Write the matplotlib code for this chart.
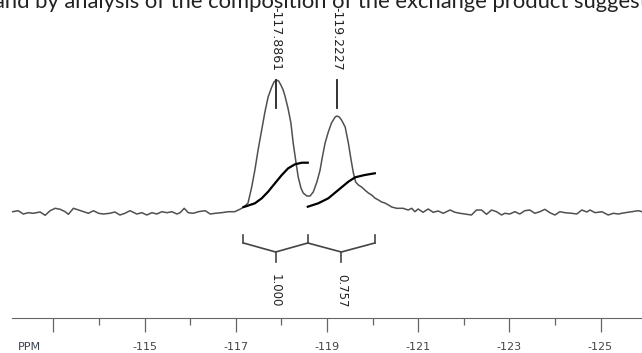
import numpy as np
import matplotlib.pyplot as plt

plt.rcParams['axes.unicode_minus'] = False

# spectrum (ppm, intensity above baseline)
ppm = [-112.11, -112.23, -112.34, -112.45, -112.56, -112.71, -112.82, -112.93, -113.04, -113.15,
       -113.26, -113.33, -113.44, -113.55, -113.66, -113.77, -113.88, -113.99, -114.10, -114.24,
       -114.35, -114.46, -114.57, -114.68, -114.83, -114.94, -115.05, -115.16, -115.27, -115.38,
       -115.49, -115.60, -115.71, -115.78, -115.87, -115.96, -116.07, -116.18, -116.33, -116.44,
       -116.55, -116.69, -116.84, -116.98, -117.09, -117.17, -117.27, -117.35, -117.42, -117.49,
       -117.57, -117.64, -117.71, -117.79, -117.84, -117.89, -117.94, -117.99, -118.04, -118.08,
       -118.15, -118.21, -118.26, -118.32, -118.37, -118.43, -118.48, -118.56, -118.63, -118.70,
       -118.78, -118.85, -118.90, -118.96, -119.03, -119.10, -119.18, -119.22, -119.27, -119.32,
       -119.40, -119.47, -119.53, -119.58, -119.63, -119.69, -119.76, -119.83, -119.91, -119.98,
       -120.05, -120.13, -120.20, -120.27, -120.35, -120.42, -120.53, -120.67, -120.78, -120.86,
       -120.93, -121.00, -121.11, -121.22, -121.33, -121.44, -121.55, -121.70, -121.81, -121.92,
       -122.06, -122.17, -122.28, -122.39, -122.50, -122.61, -122.72, -122.83, -122.90, -123.01,
       -123.12, -123.23, -123.34, -123.45, -123.56, -123.67, -123.78, -123.89, -124.00, -124.11,
       -124.22, -124.37, -124.48, -124.59, -124.70, -124.77, -124.88, -125.03, -125.17, -125.28,
       -125.39, -125.54, -125.68, -125.83, -125.91]
inten = [0.3, 1.3, -2, -0.7, -1.3, 0, -3.3, 1.3, 3.7, 2.7,
         0.3, -2.3, 3.7, 2, 0.3, -1.3, 1.3, -1.3, -2, -1.3,
         0, -3, -1.3, 1.3, -2, -0.7, -3, -0.7, -2, 0.3,
         -0.7, 0.3, -2, -0.7, 3.7, -0.7, -1.3, 0.3, 1.3, -2,
         -1.3, -0.7, 0.3, 0.3, 2.7, 4.7, 9, 25, 42, 62,
         82, 100, 115, 125, 130, 132, 131, 127, 122, 116,
         103, 89, 69, 50, 35, 24, 19, 16, 16, 20,
         30, 42, 55, 69, 80, 89, 95, 96, 95, 92,
         85, 69, 52, 39, 30, 27, 25, 22, 19, 17,
         14, 12, 10, 9, 7, 5, 3.7, 3.7, 2, 3.7,
         0.3, 3, -0.3, 3, -0.3, 1, -1.3, 2, -0.3, -1.3,
         -2.3, -3, 2, 2, -2.3, 2, 0.3, -3, -1.3, -2,
         0.3, -2, 1.3, 2, -1.3, 0.3, 2.7, -0.7, -3, 0.3,
         -0.7, -1.3, -2, 2, 0, 2, -0.7, 0.3, -3, -1.3,
         -2, -0.7, 0.3, 1.3, 0.3]

# integral curves
int1_ppm = [-117.17, -117.20, -117.42, -117.57, -117.71, -117.86, -118.01, -118.15, -118.30, -118.45, -118.58]
int1_val = [5, 5.3, 8.7, 13.7, 20.3, 28.7, 37, 43.7, 47.7, 49.3, 49.3]
int2_ppm = [-118.58, -118.81, -119.03, -119.25, -119.47, -119.62, -119.83, -120.05]
int2_val = [5.3, 8.7, 13.7, 22, 30.3, 34.7, 37, 38.7]

peaks = [-117.8861, -119.2227]
integ_edges = [-117.17, -118.58, -120.05]
integ_labels = ['1.000', '0.757']

major = [-113, -115, -117, -119, -121, -123, -125]
major_lbl = ['', '-115', '-117', '-119', '-121', '-123', '-125']
minor = [-114, -116, -118, -120, -122, -124]

fig = plt.figure(figsize=(6.42, 3.53), dpi=100)
ax = fig.add_axes([0, 0, 1, 1])
ax.set_xlim(-111.83, -125.91)
ax.set_ylim(-141, 212)

ax.plot(ppm, inten, color='#505050', lw=1.1)
ax.plot(int1_ppm, int1_val, color='black', lw=1.6)
ax.plot(int2_ppm, int2_val, color='black', lw=1.6)

# peak markers
for p in peaks:
    ax.plot([p, p], [104, 132], color='#222222', lw=1.3)
    ax.text(p, 141, '%.4f' % p, rotation=-90, ha='center', va='bottom',
            fontsize=9, color='#222222')

# integral brackets
for i in range(len(integ_labels)):
    a, b = integ_edges[i], integ_edges[i + 1]
    m = (a + b) / 2
    ax.plot([a, m, b], [-31, -40, -31], color='#444444', lw=1.2)
    ax.plot([m, m], [-40, -50], color='#444444', lw=1.2)
    ax.text(m, -62, integ_labels[i], rotation=-90, ha='center', va='top',
            fontsize=8.5, color='#222222')
for e in integ_edges:
    ax.plot([e, e], [-23, -31], color='#444444', lw=1.2)

# ppm axis
for s in ['top', 'left', 'right']:
    ax.spines[s].set_visible(False)
ax.spines['bottom'].set_position(('data', -106))
ax.spines['bottom'].set_bounds(-112.09, -125.91)
ax.spines['bottom'].set_color('#666666')
ax.set_xticks(major)
ax.set_xticklabels(major_lbl)
ax.set_xticks(minor, minor=True)
ax.tick_params(axis='x', which='major', length=10, width=0.9, color='#666666',
               labelsize=8, labelcolor='#444444', pad=7)
ax.tick_params(axis='x', which='minor', length=5, width=0.9, color='#666666')
ax.set_yticks([])
ax.text(-112.47, -135, 'PPM', ha='center', va='center', fontsize=8, color='#3a4050')

fig.text(0.5, 1 - 8 / 353, 'and by analysis of the composition of the exchange product suggest',
         ha='center', va='baseline', fontsize=15.8, family='Lato', color='#222222')

fig.savefig('out.png', dpi=100)
